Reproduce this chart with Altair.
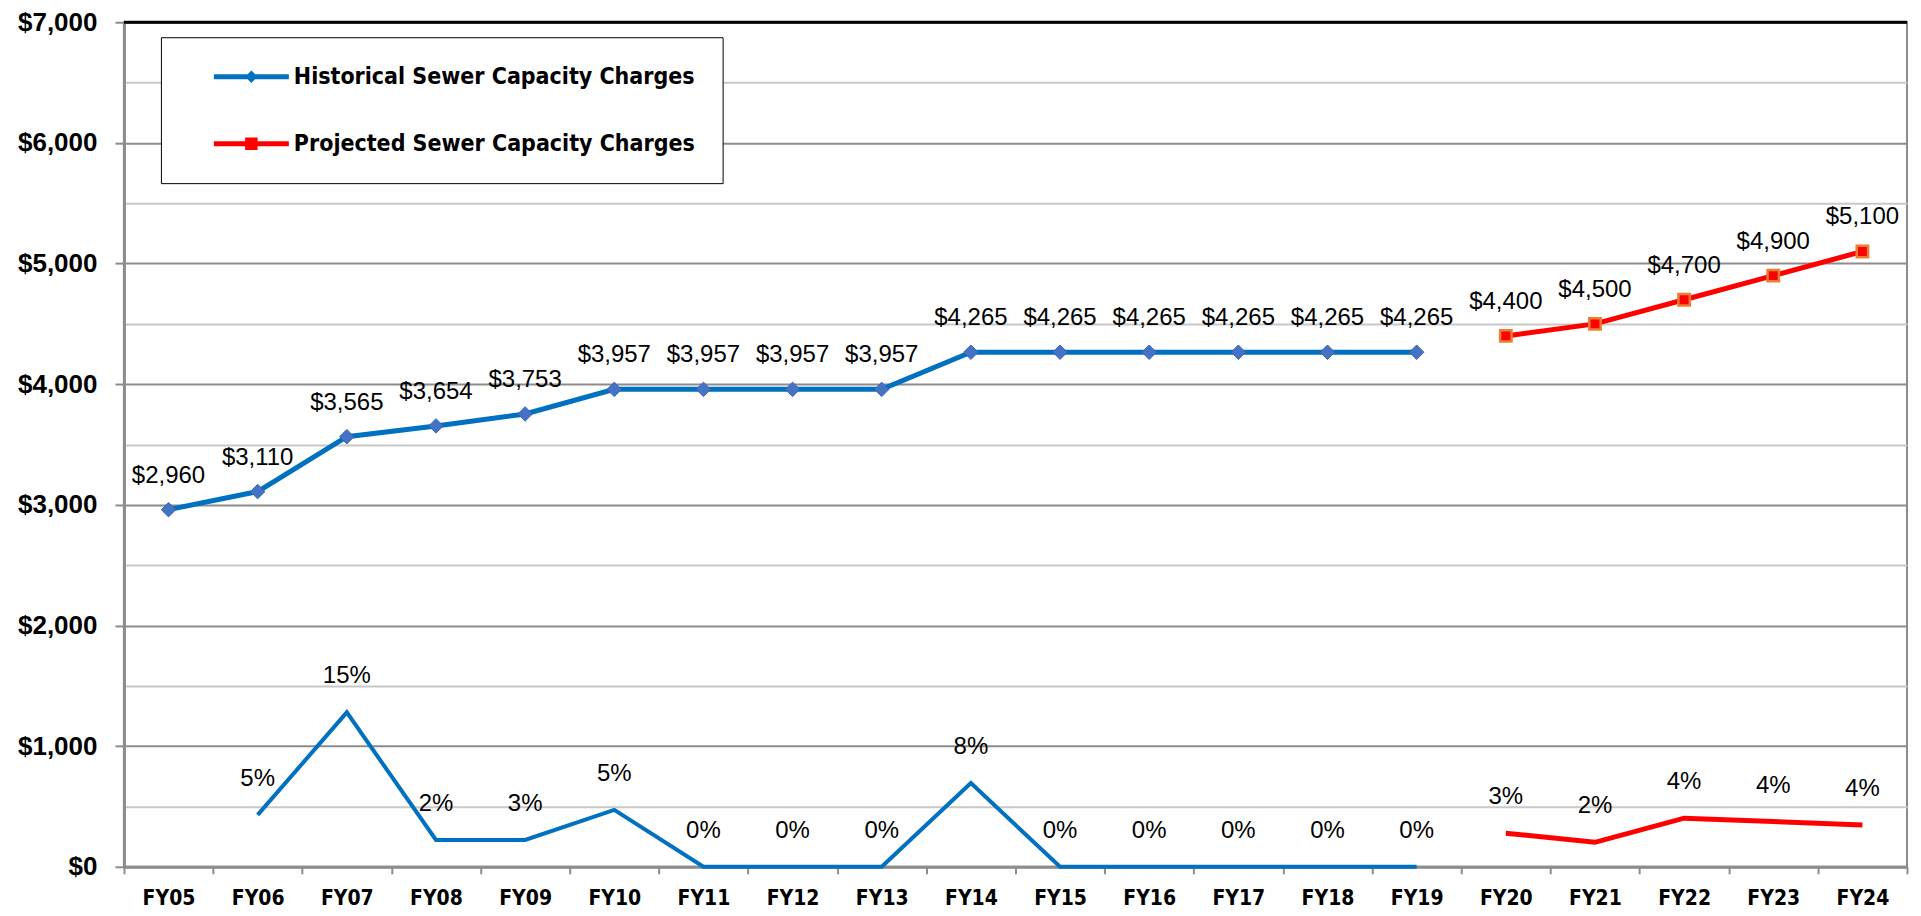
import altair as alt
import pandas as pd

years = ["FY05", "FY06", "FY07", "FY08", "FY09", "FY10", "FY11", "FY12", "FY13", "FY14",
         "FY15", "FY16", "FY17", "FY18", "FY19", "FY20", "FY21", "FY22", "FY23", "FY24"]

hist_years = years[:15]
hist_values = [2960, 3110, 3565, 3654, 3753, 3957, 3957, 3957, 3957,
               4265, 4265, 4265, 4265, 4265, 4265]
proj_years = years[15:]
proj_values = [4400, 4500, 4700, 4900, 5100]

hist_pct_years = years[1:15]
hist_pct_pos = [430, 1280, 222, 222, 472, 0, 0, 0, 694, 0, 0, 0, 0, 0]
hist_pct_labels = [5, 15, 2, 3, 5, 0, 0, 0, 8, 0, 0, 0, 0, 0]
proj_pct_pos = [278, 203, 403, 375, 347]
proj_pct_labels = [3, 2, 4, 4, 4]

series = ["Historical Sewer Capacity Charges", "Projected Sewer Capacity Charges"]
series_colors = ["#0070C0", "#FF0000"]

BLUE = "#0070C0"
RED = "#FF0000"
GRID_DARK = "#8c8c8c"
GRID_LIGHT = "#c8c8c8"
COND = "'DejaVu Sans Condensed', 'DejaVu Sans', sans-serif"
SANS = "'Liberation Sans', Arial, sans-serif"

hist_df = pd.DataFrame({"year": hist_years, "value": hist_values})
proj_df = pd.DataFrame({"year": proj_years, "value": proj_values})
hpct_df = pd.DataFrame({"year": hist_pct_years, "value": hist_pct_pos, "pct": hist_pct_labels})
ppct_df = pd.DataFrame({"year": proj_years, "value": proj_pct_pos, "pct": proj_pct_labels})
top_df = pd.DataFrame({"value": [7000]})
legend_df = pd.DataFrame({"series": series})

x_axis = alt.Axis(
    title=None, grid=False, tickBand="extent", domainColor=GRID_DARK, domainWidth=3,
    tickColor=GRID_DARK, tickWidth=2, tickSize=7, labelPadding=14,
    labelFont=COND, labelFontSize=21, labelFontWeight="bold",
    labelColor="black", labelAngle=0,
)
y_axis = alt.Axis(
    title=None, values=list(range(0, 7001, 500)),
    labelExpr="datum.value % 1000 === 0 ? '$' + format(datum.value, ',') : ''",
    gridColor={"condition": {"test": "datum.value % 1000 === 0", "value": GRID_DARK}, "value": GRID_LIGHT},
    gridWidth=2,
    tickColor={"condition": {"test": "datum.value % 1000 === 0", "value": GRID_DARK}, "value": "transparent"},
    tickWidth=2, tickSize=9, labelPadding=18, domainColor=GRID_DARK, domainWidth=3,
    labelFont=SANS, labelFontSize=26, labelFontWeight="bold", labelColor="black",
)


def X():
    return alt.X("year:N", sort=years,
                 scale=alt.Scale(type="band", domain=years, paddingInner=0, paddingOuter=0),
                 axis=x_axis)


def Y():
    return alt.Y("value:Q", scale=alt.Scale(domain=[0, 7000], nice=False, zero=True), axis=y_axis)


hist_line = alt.Chart(hist_df).mark_line(color=BLUE, strokeWidth=5).encode(x=X(), y=Y())
hist_pts = alt.Chart(hist_df).mark_point(
    shape="diamond", filled=True, size=210, color="#4472C4", stroke="#3a62b0", strokeWidth=1, opacity=1
).encode(x=X(), y=Y())
hist_txt = alt.Chart(hist_df).mark_text(
    dy=-34, font=SANS, fontSize=24, color="black", baseline="middle"
).encode(x=X(), y=Y(), text=alt.Text("value:Q", format="$,.0f"))

proj_line = alt.Chart(proj_df).mark_line(color=RED, strokeWidth=5).encode(x=X(), y=Y())
proj_pts = alt.Chart(proj_df).mark_point(
    shape="square", filled=True, size=130, color=RED, stroke="#ED7D31", strokeWidth=2.5, opacity=1
).encode(x=X(), y=Y())
proj_txt = alt.Chart(proj_df).mark_text(
    dy=-34, font=SANS, fontSize=24, color="black", baseline="middle"
).encode(x=X(), y=Y(), text=alt.Text("value:Q", format="$,.0f"))

hpct_line = alt.Chart(hpct_df).mark_line(color=BLUE, strokeWidth=4).encode(x=X(), y=Y())
hpct_txt = alt.Chart(hpct_df).transform_calculate(lab="datum.pct + '%'").mark_text(
    dy=-36, font=SANS, fontSize=24, color="black", baseline="middle"
).encode(x=X(), y=Y(), text="lab:N")

ppct_line = alt.Chart(ppct_df).mark_line(color=RED, strokeWidth=5).encode(x=X(), y=Y())
ppct_txt = alt.Chart(ppct_df).transform_calculate(lab="datum.pct + '%'").mark_text(
    dy=-36, font=SANS, fontSize=24, color="black", baseline="middle"
).encode(x=X(), y=Y(), text="lab:N")

top_rule = alt.Chart(top_df).mark_rule(color="black", strokeWidth=3).encode(y=Y())

diamond_path = "M-3,-0.2L3,-0.2L3,0.2L-3,0.2Z M0,-0.5L0.5,0L0,0.5L-0.5,0Z"
square_path = "M-3,-0.2L3,-0.2L3,0.2L-3,0.2Z M-0.5,-0.5L0.5,-0.5L0.5,0.5L-0.5,0.5Z"

leg = dict(
    title=None, orient="none", legendX=37, legendY=15, padding=27, rowPadding=42,
    symbolSize=625, symbolOffset=51, labelOffset=30, symbolStrokeWidth=0,
    labelFont=COND, labelFontSize=23, labelFontWeight="bold",
    labelColor="black", labelLimit=0, strokeColor="black", fillColor="white",
)

legend_layer = alt.Chart(legend_df).transform_filter("false").mark_point(filled=True, opacity=1).encode(
    color=alt.Color("series:N", scale=alt.Scale(domain=series, range=series_colors), legend=alt.Legend(**leg)),
    shape=alt.Shape("series:N", scale=alt.Scale(domain=series, range=[diamond_path, square_path]),
                    legend=alt.Legend(**leg)),
)

chart = alt.layer(
    top_rule, hpct_line, ppct_line, hist_line, proj_line, hist_pts, proj_pts,
    hist_txt, proj_txt, hpct_txt, ppct_txt, legend_layer,
).properties(
    width=1784, height=845,
    autosize=alt.AutoSizeParams(type="none"),
    padding={"left": 116, "top": 14, "right": 6, "bottom": 45},
    background="white",
).configure_view(stroke=GRID_DARK, strokeWidth=2)

chart.save("out.html", embed_options={"renderer": "svg", "actions": False})
